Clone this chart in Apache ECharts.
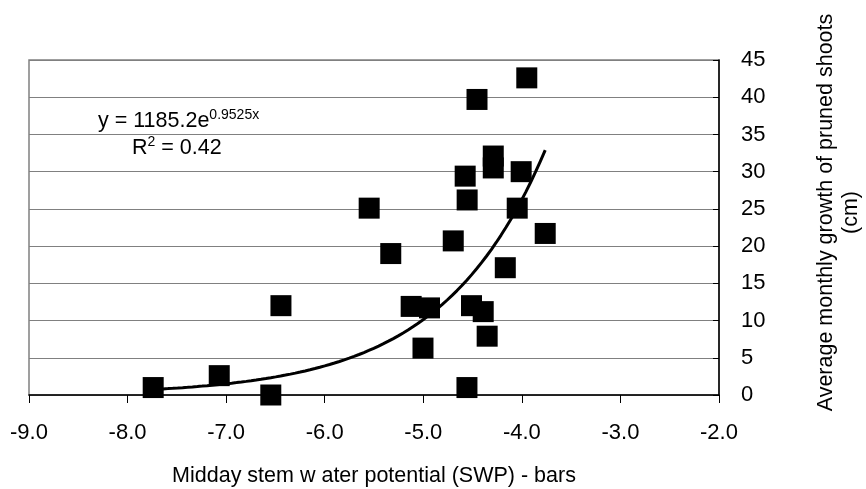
<!DOCTYPE html>
<html>
<head>
<meta charset="utf-8">
<script src="https://cdn.jsdelivr.net/npm/echarts@6/dist/echarts.min.js"></script>
<style>
html,body{margin:0;padding:0;background:#fff;}
#chart{width:866px;height:489px;}
</style>
</head>
<body>
<div id="chart"></div>
<script>
// Midday stem water potential (bars) for each observation
const swp = [-3.95, -4.455, -4.29, -4.29, -4.007, -4.575, -4.555, -5.549, -4.047, -3.763,
             -4.696, -5.33, -4.168, -5.123, -4.937, -4.511, -4.392, -4.352, -5.003, -4.557,
             -6.444, -7.07, -7.74, -6.547];
// Average monthly growth of pruned shoots (cm)
const growth = [42.6, 39.7, 32.1, 30.5, 30.0, 29.4, 26.2, 25.1, 25.1, 21.7,
                20.7, 19.0, 17.1, 11.9, 11.7, 12.0, 11.2, 7.9, 6.3, 1.0,
                12.0, 2.6, 1.0, 0.0];
// Printed exponential trendline: y = 1185.2 e^(0.9525x)
const trendA = 1185.2;
const trendB = 0.9525;
const trendSteps = 80;
// Axis ranges
const xTicks = [-9, -8, -7, -6, -5, -4, -3, -2];
const yTicks = [0, 5, 10, 15, 20, 25, 30, 35, 40, 45];

const FONT = "'Liberation Sans', Arial, sans-serif";

const points = swp.map((x, i) => [x, growth[i]]);
const xMinData = Math.min(...swp), xMaxData = Math.max(...swp);
const trend = [];
for (let i = 0; i <= trendSteps; i++) {
  const x = xMinData + (xMaxData - xMinData) * i / trendSteps;
  trend.push([x, trendA * Math.exp(trendB * x)]);
}

const chart = echarts.init(document.getElementById('chart'), null, {renderer: 'canvas'});
chart.setOption({
  animation: false,
  backgroundColor: '#ffffff',
  textStyle: {fontFamily: FONT},
  grid: {left: 29, right: 147, top: 60, bottom: 94, containLabel: false, outerBoundsMode: 'none',
         show: true, borderColor: '#808080', borderWidth: 1.5, backgroundColor: 'transparent'},
  xAxis: {
    type: 'value',
    min: xTicks[0], max: xTicks[xTicks.length - 1], interval: 1,
    axisLine: {show: true, onZero: false, lineStyle: {color: '#000', width: 1.5}},
    axisTick: {show: true, inside: false, length: 8, lineStyle: {color: '#000', width: 1}},
    axisLabel: {fontSize: 22, color: '#000', margin: 27, fontFamily: FONT, formatter: v => v.toFixed(1)},
    splitLine: {show: false},
    name: 'Midday stem w ater potential (SWP) - bars',
    nameLocation: 'middle',
    nameGap: 70,
    nameTextStyle: {fontSize: 21.5, color: '#000', fontFamily: FONT}
  },
  yAxis: {
    type: 'value',
    position: 'right',
    min: yTicks[0], max: yTicks[yTicks.length - 1], interval: 5,
    axisLine: {show: true, onZero: false, lineStyle: {color: '#000', width: 1.5}},
    axisTick: {show: true, inside: true, length: 6, lineStyle: {color: '#000', width: 1}},
    axisLabel: {fontSize: 22, color: '#000', margin: 22, fontFamily: FONT},
    splitLine: {show: true, lineStyle: {color: '#808080', width: 1}},
    name: 'Average monthly growth of pruned shoots\n(cm)',
    nameLocation: 'middle',
    nameRotate: 90,
    nameGap: 95,
    nameTextStyle: {fontSize: 21.5, lineHeight: 25, color: '#000', fontFamily: FONT, align: 'center', padding: [0, 0, 0, 30]}
  },
  graphic: [
    {
      type: 'text', left: 98, top: 108,
      style: {
        text: '{m|y = 1185.2e}{s|0.9525x}',
        rich: {
          m: {fontSize: 21.5, lineHeight: 24, verticalAlign: 'bottom', fontFamily: FONT, fill: '#000'},
          s: {fontSize: 14, lineHeight: 14, verticalAlign: 'top', fontFamily: FONT, fill: '#000'}
        }
      }
    },
    {
      type: 'text', left: 132, top: 135,
      style: {
        text: '{m|R}{s|2}{m| = 0.42}',
        rich: {
          m: {fontSize: 21.5, lineHeight: 24, verticalAlign: 'bottom', fontFamily: FONT, fill: '#000'},
          s: {fontSize: 14, lineHeight: 14, verticalAlign: 'top', fontFamily: FONT, fill: '#000'}
        }
      }
    }
  ],
  series: [
    {
      type: 'scatter',
      data: points,
      symbol: 'rect',
      symbolSize: 21,
      itemStyle: {color: '#000', opacity: 1},
      z: 3
    },
    {
      type: 'line',
      data: trend,
      showSymbol: false,
      smooth: false,
      lineStyle: {color: '#000', width: 3},
      z: 4
    }
  ]
});
</script>
</body>
</html>
